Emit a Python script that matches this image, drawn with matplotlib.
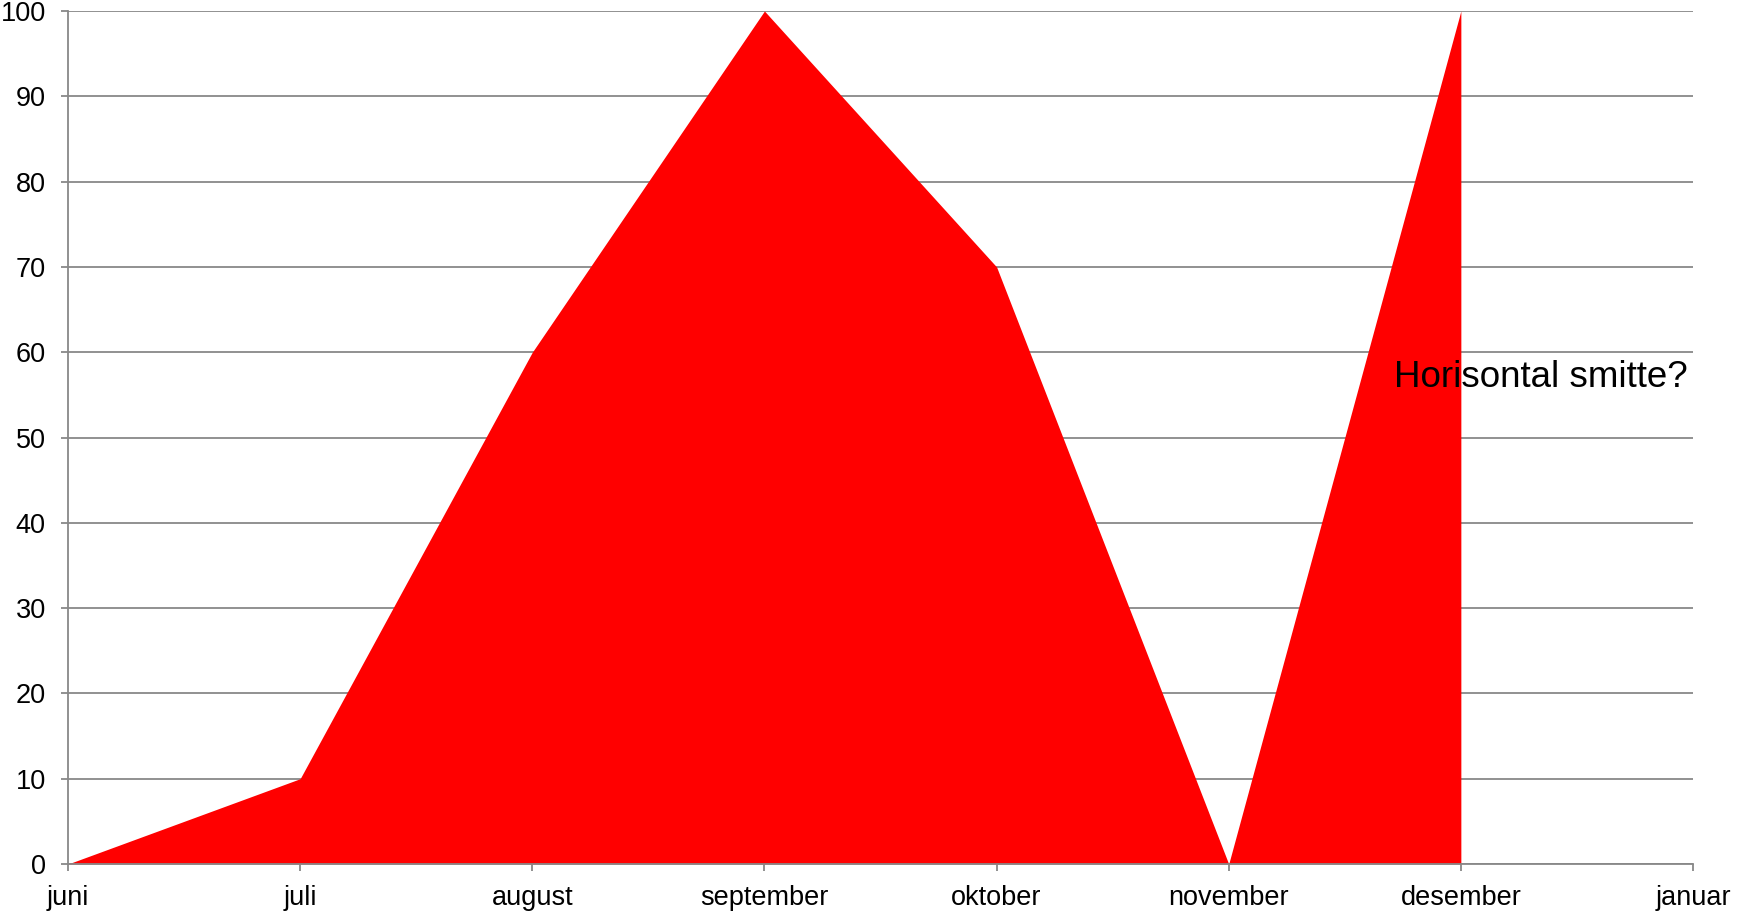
import numpy as np
import matplotlib.pyplot as plt

plt.rcParams['font.family'] = ['Liberation Sans', 'DejaVu Sans']

months = ['juni', 'juli', 'august', 'september', 'oktober', 'november', 'desember', 'januar']
values = [0, 10, 60, 100, 70, 0, 100]
note = 'Horisontal smitte?'

fig = plt.figure(figsize=(17.39, 9.14), dpi=100)
ax = fig.add_axes([68 / 1739, 1 - 864 / 914, (1693 - 68) / 1739, (864 - 11) / 914])

x = np.arange(len(values))
ax.fill_between(x, values, 0, color='#ff0000', linewidth=0, zorder=3)

grey = '#888888'
ax.set_xlim(0, len(months) - 1)
ax.set_ylim(0, 100)
ax.set_xticks(np.arange(len(months)))
ax.set_xticklabels(months)
ax.set_yticks(np.arange(0, 101, 10))
ax.yaxis.grid(True, color=grey, linewidth=1.3, zorder=1)
ax.set_axisbelow(True)
for s in ['top', 'right']:
    ax.spines[s].set_visible(False)
for s in ['left', 'bottom']:
    ax.spines[s].set_color(grey)
    ax.spines[s].set_linewidth(1.3)
    ax.spines[s].set_zorder(4)
ax.tick_params(axis='both', colors=grey, labelcolor='black', labelsize=19.5,
               length=5, width=1.3)
ax.tick_params(axis='x', pad=10)
ax.tick_params(axis='y', pad=11)

ax.text(5.71, 57, note, fontsize=26.5, va='center', ha='left', zorder=5)

fig.savefig('out.png', dpi=100)
